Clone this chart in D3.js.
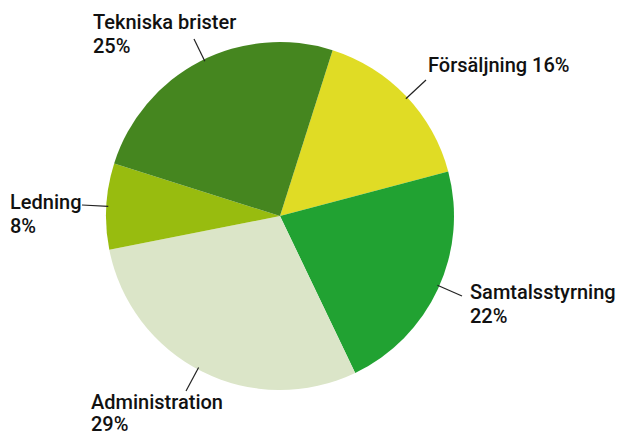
<!DOCTYPE html>
<html><head><meta charset="utf-8">
<script src="https://cdn.jsdelivr.net/npm/d3@7"></script>
<style>body{margin:0;background:#fff}svg{display:block}text{font-family:Roboto,"Noto Sans",sans-serif;font-weight:500;font-size:20px;fill:#111}</style>
</head><body>
<script>
const categories = ["Försäljning", "Samtalsstyrning", "Administration", "Ledning", "Tekniska brister"];
const values = [16, 22, 29, 8, 25];
const colors = ["#e0dc25", "#21a232", "#dbe5c8", "#98bc0f", "#45861f"];
const percentLabels = ["16%", "22%", "29%", "8%", "25%"];

const W = 617, H = 435, cx = 280, cy = 216, R = 174;
const startDeg = 17.6;
const svg = d3.select("body").append("svg").attr("width", W).attr("height", H);
const g = svg.append("g").attr("transform", `translate(${cx},${cy})`);
const pie = d3.pie().sort(null).value(d => d)
  .startAngle(startDeg * Math.PI / 180).endAngle(startDeg * Math.PI / 180 + 2 * Math.PI);
const arcs = pie(values);
const arc = d3.arc().innerRadius(0).outerRadius(R);
g.selectAll("path").data(arcs).enter().append("path")
  .attr("d", arc).attr("fill", (d, i) => colors[i]);

const layout = [
  {lx: 426 - cx, ly: 80 - cy, tx: 428, ty: 72, single: true, gap: 24},
  {lx: 462 - cx, ly: 296 - cy, tx: 470, ty: 299, single: false, gap: 24},
  {lx: 186 - cx, ly: 391 - cy, tx: 91, ty: 409, single: false, gap: 22},
  {lx: 82 - cx, ly: 205 - cy, tx: 10, ty: 209, single: false, gap: 24},
  {lx: 194 - cx, ly: 39 - cy, tx: 93, ty: 29, single: false, gap: 24}
];
arcs.forEach((a, i) => {
  const L = layout[i];
  const ang = Math.atan2(L.ly, L.lx);
  const px = Math.cos(ang) * (R - 2), py = Math.sin(ang) * (R - 2);
  g.append("line").attr("x1", px).attr("y1", py).attr("x2", L.lx).attr("y2", L.ly)
    .attr("stroke", "#222").attr("stroke-width", 1.2);
  const t = svg.append("text").attr("x", L.tx).attr("y", L.ty);
  if (L.single) {
    t.text(categories[i] + " " + percentLabels[i]);
  } else {
    t.append("tspan").attr("x", L.tx).text(categories[i]);
    t.append("tspan").attr("x", L.tx).attr("dy", L.gap).text(percentLabels[i]);
  }
});
</script>
</body></html>
